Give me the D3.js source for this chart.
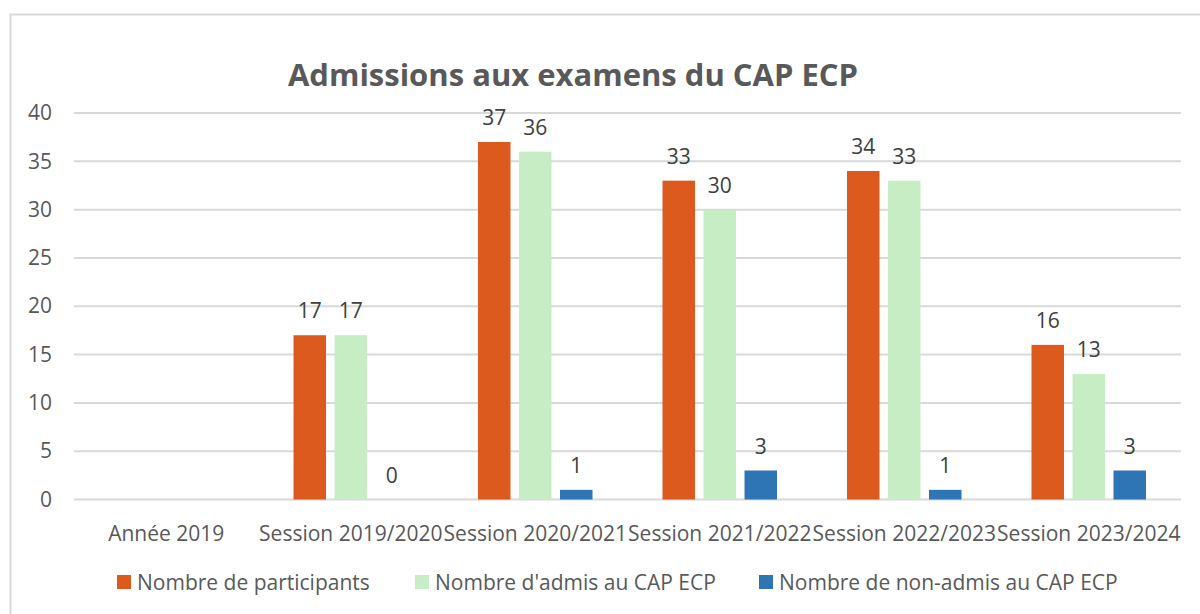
<!DOCTYPE html>
<html>
<head>
<meta charset="utf-8">
<script src="https://cdn.jsdelivr.net/npm/d3@7"></script>
<style>
  body { margin: 0; background: #fff; }
  svg { display: block; font-family: "Open Sans", sans-serif; }
</style>
</head>
<body>
<div id="chart"></div>
<script>
// data
var categories = ["Année 2019", "Session 2019/2020", "Session 2020/2021",
                  "Session 2021/2022", "Session 2022/2023", "Session 2023/2024"];
var participants = [null, 17, 37, 33, 34, 16];
var admis = [null, 17, 36, 30, 33, 13];
var nonAdmis = [null, 0, 1, 3, 1, 3];
var seriesNames = ["Nombre de participants", "Nombre d'admis au CAP ECP", "Nombre de non-admis au CAP ECP"];
var seriesColors = ["#DC5A1E", "#C6EDC3", "#2E75B6"];
var yTicks = [0, 5, 10, 15, 20, 25, 30, 35, 40];

var allSeries = [participants, admis, nonAdmis];

var W = 1200, H = 614;
var svg = d3.select("#chart").append("svg")
    .attr("width", W).attr("height", H);

// chart frame
svg.append("rect")
    .attr("x", 10.5).attr("y", 14.5)
    .attr("width", 1210).attr("height", 620)
    .attr("fill", "#fff")
    .attr("stroke", "#d9d9d9")
    .attr("stroke-width", 2);

// title
svg.append("text")
    .attr("x", 573).attr("y", 86)
    .attr("text-anchor", "middle")
    .attr("font-size", 31)
    .attr("font-weight", "bold")
    .attr("fill", "#595959")
    .text("Admissions aux examens du CAP ECP");

var plotLeft = 74, plotRight = 1181, plotTop = 113, plotBottom = 499.5;

var x = d3.scaleBand().domain(categories).range([plotLeft, plotRight]).padding(0);
var y = d3.scaleLinear().domain([0, 40]).range([plotBottom, plotTop]);

// gridlines
svg.append("g").selectAll("line")
    .data(yTicks)
    .join("line")
    .attr("x1", plotLeft).attr("x2", plotRight)
    .attr("y1", d => y(d)).attr("y2", d => y(d))
    .attr("stroke", "#d9d9d9")
    .attr("stroke-width", 2);

// y axis labels
var yAxis = d3.axisLeft(y).tickValues(yTicks).tickSize(0).tickPadding(0);
var yg = svg.append("g").attr("transform", "translate(52,0)").call(yAxis);
yg.select(".domain").remove();
yg.selectAll("text")
    .attr("font-size", 21)
    .attr("font-family", "Open Sans, sans-serif")
    .attr("fill", "#595959");

// x axis labels
var xAxis = d3.axisBottom(x).tickSize(0).tickPadding(0);
var xg = svg.append("g").attr("transform", "translate(0,526)").call(xAxis);
xg.select(".domain").remove();
xg.selectAll("text")
    .attr("font-size", 21)
    .attr("font-family", "Open Sans, sans-serif")
    .attr("fill", "#595959");

// bars
var barW = 32.5, step = 41;
allSeries.forEach(function(vals, s) {
  var pts = categories.map(function(c, i) { return { c: c, v: vals[i] }; })
      .filter(d => d.v !== null);
  var off = (s - 1) * step - barW / 2;
  var g = svg.append("g");
  g.selectAll("rect")
    .data(pts)
    .join("rect")
    .attr("x", d => x(d.c) + x.bandwidth() / 2 + off)
    .attr("y", d => y(d.v))
    .attr("width", barW)
    .attr("height", d => y(0) - y(d.v))
    .attr("fill", seriesColors[s]);
  g.selectAll("text")
    .data(pts)
    .join("text")
    .attr("x", d => x(d.c) + x.bandwidth() / 2 + off + barW / 2)
    .attr("y", d => y(d.v) - 17)
    .attr("text-anchor", "middle")
    .attr("font-size", 21)
    .attr("fill", "#404040")
    .text(d => d.v);
});

// legend
var legendX = [117, 415, 759];
var leg = svg.append("g");
seriesNames.forEach(function(name, s) {
  leg.append("rect")
    .attr("x", legendX[s]).attr("y", 575)
    .attr("width", 14).attr("height", 14)
    .attr("fill", seriesColors[s]);
  leg.append("text")
    .attr("x", legendX[s] + 20).attr("y", 590)
    .attr("font-size", 21)
    .attr("fill", "#595959")
    .text(name);
});
</script>
</body>
</html>
